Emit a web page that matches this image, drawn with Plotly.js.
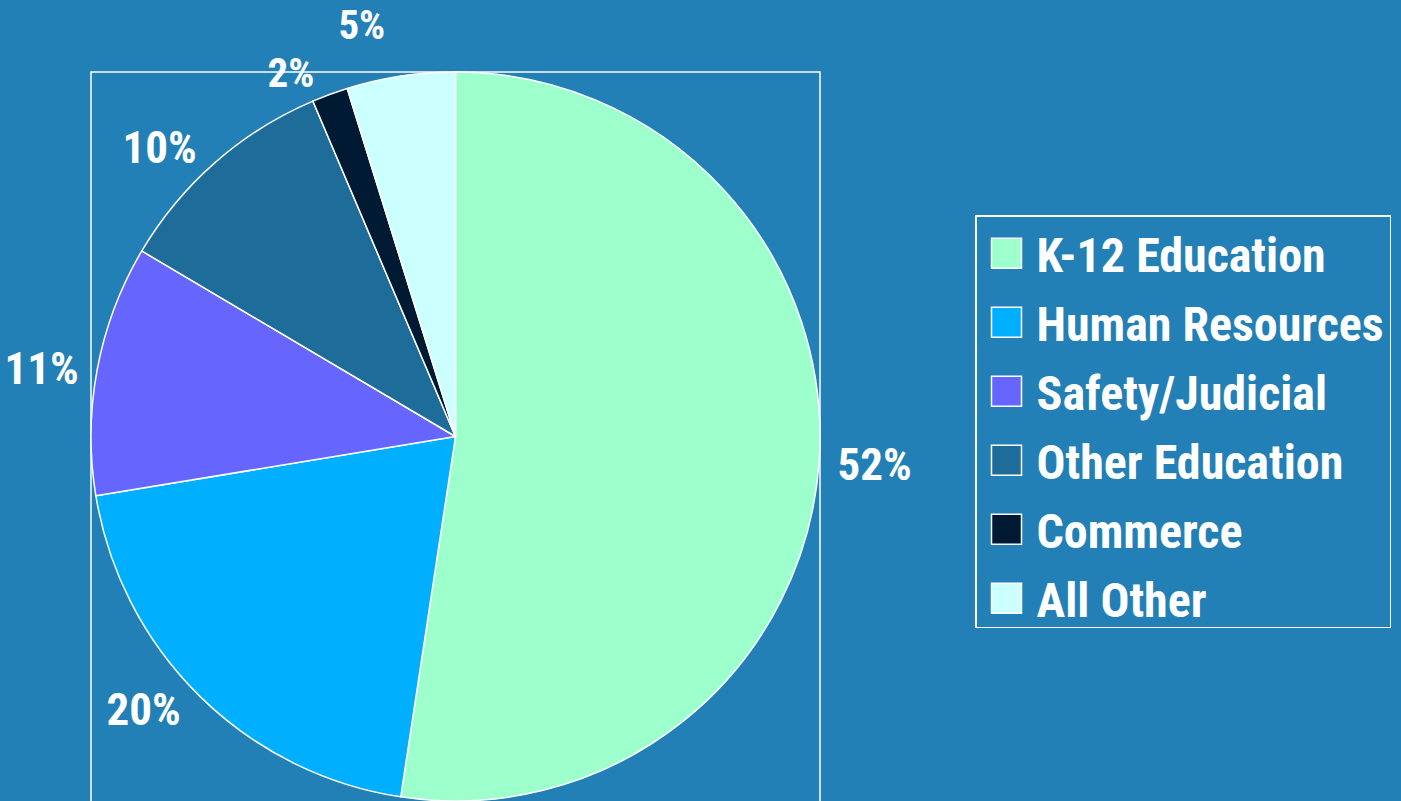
<!DOCTYPE html>
<html>
<head>
<meta charset="utf-8">
<script src="https://cdn.plot.ly/plotly-3.0.1.min.js"></script>
<style>
html,body{margin:0;padding:0;background:#2280B6;}
#chart{width:1401px;height:801px;}
.textline{display:none;}
.legendtext, .slicetext text{font-stretch:condensed !important;}
</style>
</head>
<body>
<div id="chart"></div>
<script>
const categories = ["K-12 Education","Human Resources","Safety/Judicial","Other Education","Commerce","All Other"];
const values = [52.4, 20.0, 11.1, 10.1, 1.6, 4.8];
const colors = ["#9CFFCC","#00B0FF","#6666FF","#1E6C99","#001A33","#CCFFFF"];

const FONT = "Roboto, 'DejaVu Sans Condensed', sans-serif";
const W = 1401, H = 801;
const boxL = 91, boxR = 820, boxT = 72;

const labelSizes = [45, 45, 45, 45, 41, 41];
const labelFont = {family: FONT, size: labelSizes, color: '#FFFFFF', weight: 700};
const legendFont = {family: FONT, size: 48, color: '#FFFFFF', weight: 700};

const trace = {
  type: 'pie',
  labels: categories,
  values: values,
  sort: false,
  direction: 'clockwise',
  rotation: 0,
  marker: {colors: colors, line: {color: '#FFFFFF', width: 1.5}},
  textposition: 'outside',
  texttemplate: '%{percent:.0%}',
  outsidetextfont: labelFont,
  hoverinfo: 'label+percent',
  domain: {x: [boxL / W, boxR / W], y: [0, 1 - boxT / H]},
  automargin: false
};

const layout = {
  width: W, height: H,
  paper_bgcolor: '#2280B6',
  plot_bgcolor: '#2280B6',
  margin: {l: 0, r: 0, t: 0, b: 0},
  showlegend: true,
  legend: {
    x: 1391 / W, xanchor: 'right',
    y: 1 - 215 / H, yanchor: 'top',
    bgcolor: 'rgba(0,0,0,0)',
    bordercolor: '#FFFFFF', borderwidth: 1.5,
    font: legendFont,
    itemwidth: 50
  },
  shapes: [{
    type: 'rect', xref: 'paper', yref: 'paper', layer: 'below',
    x0: boxL / W, x1: boxR / W, y0: -0.05, y1: 1 - boxT / H,
    line: {color: '#FFFFFF', width: 1.5}
  }]
};

Plotly.newPlot('chart', [trace], layout, {displayModeBar: false}).then(function () {
  document.querySelectorAll('.legendpie').forEach(function (p) {
    p.setAttribute('d', 'M15,15H-15V-15H15Z');
  });
  // spread legend entries to the reference row pitch
  const leg = document.querySelector('.legend');
  if (!leg) return;
  const items = leg.querySelectorAll('.traces');
  const pitch = 69;
  let y0 = null;
  items.forEach(function (g, i) {
    const m = /translate\(\s*([-\d.e]+)[ ,]+([-\d.e]+)\s*\)/.exec(g.getAttribute('transform') || '');
    if (!m) return;
    const x = parseFloat(m[1]), y = parseFloat(m[2]);
    if (y0 === null) y0 = y - 1;
    g.setAttribute('transform', 'translate(' + x + ',' + (y0 + i * pitch) + ')');
  });
  const bg = leg.querySelector('.bg');
  if (bg) bg.setAttribute('height', 411.5);
  const sb = leg.querySelector('.scrollbox');
  if (sb) sb.removeAttribute('clip-path');
});
</script>
</body>
</html>
